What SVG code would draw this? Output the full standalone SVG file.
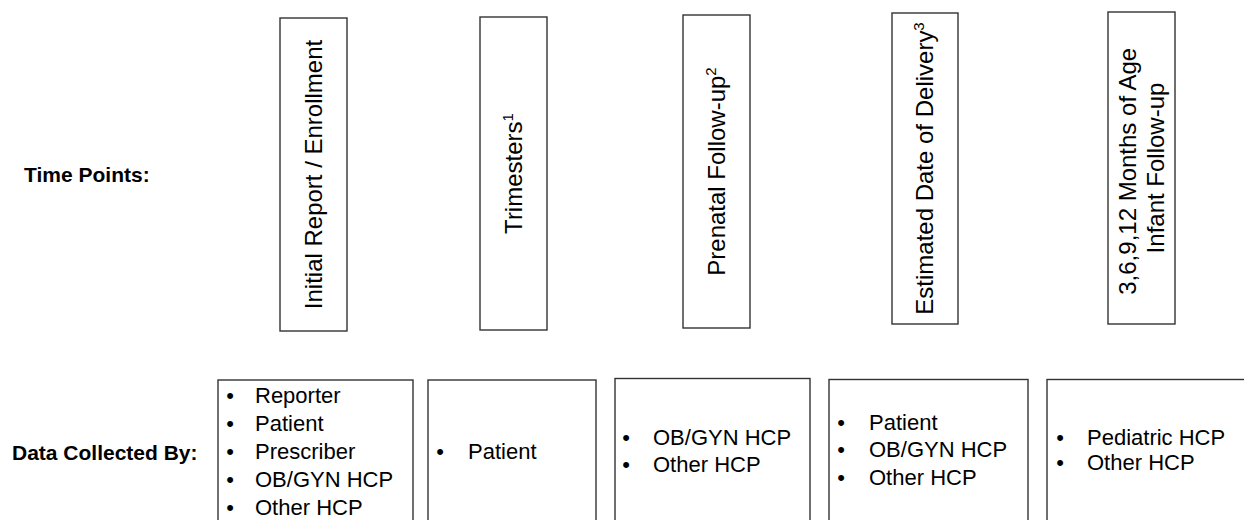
<svg xmlns="http://www.w3.org/2000/svg" width="1244" height="520" viewBox="0 0 1244 520">
<style>
  .box { fill: #ffffff; stroke: #333333; stroke-width: 1.4; }
  .vt { font-family: "Liberation Sans", Arial, sans-serif; font-size: 24px; fill: #000000; text-anchor: middle; }
  .sup { font-size: 15px; }
  .lbl { font-family: "Liberation Sans", Arial, sans-serif; font-size: 21px; font-weight: bold; fill: #000000; }
  .li { font-family: "Liberation Sans", Arial, sans-serif; font-size: 22px; fill: #000000; }
  .bul { font-family: "Liberation Sans", Arial, sans-serif; font-size: 22px; fill: #000000; text-anchor: middle; }
</style>
<rect x="0" y="0" width="1244" height="520" fill="#ffffff"/>

<g id="labels">
  <text class="lbl" x="24" y="182">Time Points:</text>
  <text class="lbl" x="12" y="460">Data Collected By:</text>
</g>

<g id="tp-initial">
  <rect class="box" x="280" y="18" width="67" height="313"/>
  <text class="vt" transform="translate(313.5,174.5) rotate(-90)" x="0" y="8">Initial Report / Enrollment</text>
</g>
<g id="tp-trimesters">
  <rect class="box" x="480" y="17" width="67" height="313"/>
  <text class="vt" transform="translate(513.5,173.5) rotate(-90)" x="0" y="8">Trimesters<tspan class="sup" dy="-9">1</tspan></text>
</g>
<g id="tp-prenatal">
  <rect class="box" x="683" y="15" width="67" height="313"/>
  <text class="vt" transform="translate(716.5,171.5) rotate(-90)" x="0" y="8">Prenatal Follow-up<tspan class="sup" dy="-9">2</tspan></text>
</g>
<g id="tp-edd">
  <rect class="box" x="892" y="13" width="66" height="311"/>
  <text class="vt" transform="translate(925,168.5) rotate(-90)" x="0" y="8">Estimated Date of Delivery<tspan class="sup" dy="-9">3</tspan></text>
</g>
<g id="tp-infant">
  <rect class="box" x="1108" y="12" width="67" height="312"/>
  <text class="vt" transform="translate(1141.5,168) rotate(-90)">
    <tspan x="0" y="-6">3,6,9,12 Months of Age</tspan>
    <tspan x="0" y="22">Infant Follow-up</tspan>
  </text>
</g>

<g id="dc-initial">
  <rect class="box" x="218" y="380" width="195" height="170"/>
  <text class="bul" x="230" y="403.3">•</text><text class="li" x="255" y="403.3">Reporter</text>
  <text class="bul" x="230" y="431.2">•</text><text class="li" x="255" y="431.2">Patient</text>
  <text class="bul" x="230" y="459.1">•</text><text class="li" x="255" y="459.1">Prescriber</text>
  <text class="bul" x="230" y="487">•</text><text class="li" x="255" y="487">OB/GYN HCP</text>
  <text class="bul" x="230" y="514.9">•</text><text class="li" x="255" y="514.9">Other HCP</text>
</g>
<g id="dc-trimesters">
  <rect class="box" x="428" y="380" width="168" height="170"/>
  <text class="bul" x="440" y="459.3">•</text><text class="li" x="468" y="459.3">Patient</text>
</g>
<g id="dc-prenatal">
  <rect class="box" x="615" y="378.5" width="195" height="170"/>
  <text class="bul" x="626" y="445">•</text><text class="li" x="653" y="445">OB/GYN HCP</text>
  <text class="bul" x="626" y="471.7">•</text><text class="li" x="653" y="471.7">Other HCP</text>
</g>
<g id="dc-edd">
  <rect class="box" x="829" y="379.5" width="199" height="170"/>
  <text class="bul" x="841" y="430">•</text><text class="li" x="869" y="430">Patient</text>
  <text class="bul" x="841" y="457.3">•</text><text class="li" x="869" y="457.3">OB/GYN HCP</text>
  <text class="bul" x="841" y="485">•</text><text class="li" x="869" y="485">Other HCP</text>
</g>
<g id="dc-infant">
  <rect class="box" x="1047" y="379.5" width="220" height="170"/>
  <text class="bul" x="1060" y="445">•</text><text class="li" x="1087" y="445">Pediatric HCP</text>
  <text class="bul" x="1060" y="470">•</text><text class="li" x="1087" y="470">Other HCP</text>
</g>

<g id="connectors"></g>
</svg>
